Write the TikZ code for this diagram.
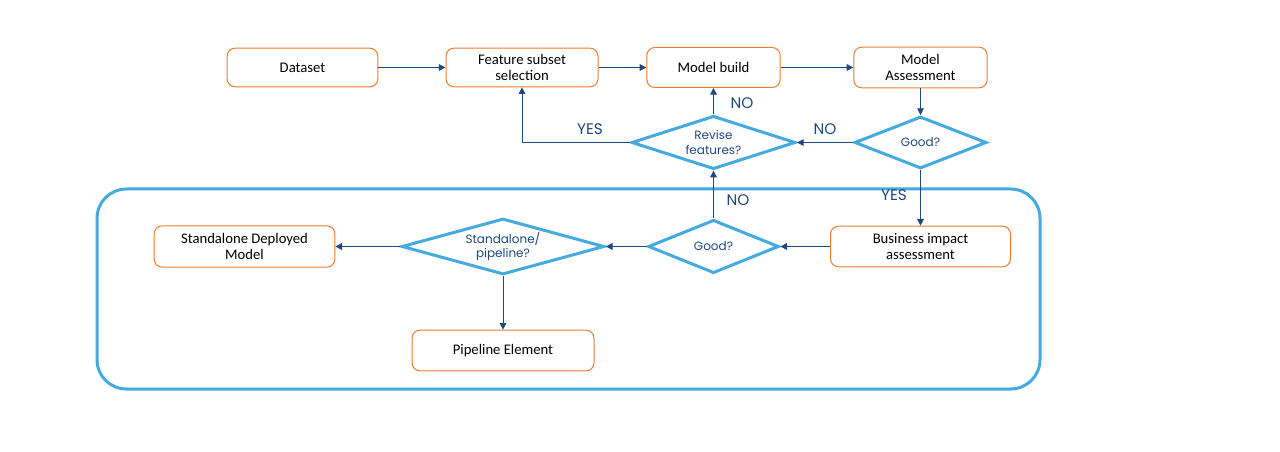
\documentclass[tikz,border=0pt]{standalone}
\usepackage{fontspec}
\setmainfont{Carlito}
\newfontfamily\gothic{Poppins}
\usetikzlibrary{shapes.geometric,arrows.meta}
\definecolor{boxline}{RGB}{237,125,49}
\definecolor{decline}{RGB}{68,170,223}
\definecolor{arrowc}{RGB}{31,73,125}
\tikzset{
  stepbox/.style={draw=boxline,line width=0.75pt,rounded corners=6pt,fill=white,align=center,inner sep=1pt,font=\fontsize{11}{12}\selectfont},
  decision/.style={diamond,draw=decline,line width=2.25pt,aspect=3,inner sep=0pt,align=center,text=arrowc,font=\gothic\fontsize{9}{11}\selectfont},
  flow/.style={draw=arrowc,line width=0.75pt,-{Triangle[length=5pt,width=5pt]}},
  answer/.style={text=arrowc,font=\gothic\fontsize{11.5}{12}\selectfont,inner sep=0.75pt}
}
\begin{document}
\begin{tikzpicture}[x=0.75pt,y=0.75pt,yscale=-1,xscale=1]
\useasboundingbox (0,0) rectangle (1280,452);

%Shape: Rounded Rectangle (deployment area)
\draw [draw=decline,line width=2.25pt,rounded corners=22pt] (97,189) rectangle (1040,389) ;

%Boxes
\node [stepbox,minimum width=113pt,minimum height=29pt] (dataset) at (302.5,67.5) {Dataset};
\node [stepbox,minimum width=114pt,minimum height=29pt] (subset) at (522,67.5) {Feature subset\\selection};
\node [stepbox,minimum width=100pt,minimum height=30pt] (build) at (713.5,67.5) {Model build};
\node [stepbox,minimum width=100pt,minimum height=30.5pt] (assess) at (920.5,67.5) {Model\\Assessment};
\node [stepbox,minimum width=135pt,minimum height=30.5pt] (impact) at (920.5,246.5) {Business impact\\assessment};
\node [stepbox,minimum width=135.5pt,minimum height=31pt] (deployed) at (244.5,246.5) {Standalone Deployed\\Model};
\node [stepbox,minimum width=136.5pt,minimum height=30.5pt] (pipeline) at (503,350.5) {Pipeline Element};

%Decisions
\node [decision,minimum width=99pt,minimum height=39pt] (goodtop) at (920.5,142.5) {Good?};
\node [decision,minimum width=123pt,minimum height=40pt] (revise) at (713.5,142.5) {Revise\\features?};
\node [decision,minimum width=98pt,minimum height=40pt] (goodlow) at (713.5,246.5) {Good?};
\node [decision,minimum width=152pt,minimum height=42pt] (mode) at (503,246.5) {Standalone/\\pipeline?};

%Connectors
\draw [flow] (dataset) -- (subset) ;
\draw [flow] (subset) -- (build) ;
\draw [flow] (build) -- (assess) ;
\draw [flow] (assess) -- (goodtop) ;
\draw [flow] (goodtop) -- (revise) ;
\draw [flow] (revise) -- (build) ;
\draw [flow] (revise.west) -| (subset.south) ;
\draw [flow] (goodtop) -- (impact) ;
\draw [flow] (impact) -- (goodlow) ;
\draw [flow] (goodlow) -- (revise) ;
\draw [flow] (goodlow) -- (mode) ;
\draw [flow] (mode.west) -- (deployed) ;
\draw [flow] (mode) -- (pipeline) ;

% Text Node
\node [answer] (yesleft) at (590,129) {YES};
% Text Node
\node [answer] (nobuild) at (742,103) {NO};
% Text Node
\node [answer] (noright) at (825,129) {NO};
% Text Node
\node [answer] (nolow) at (738,200) {NO};
% Text Node
\node [answer] (yesdown) at (894,195) {YES};

\end{tikzpicture}
\end{document}
